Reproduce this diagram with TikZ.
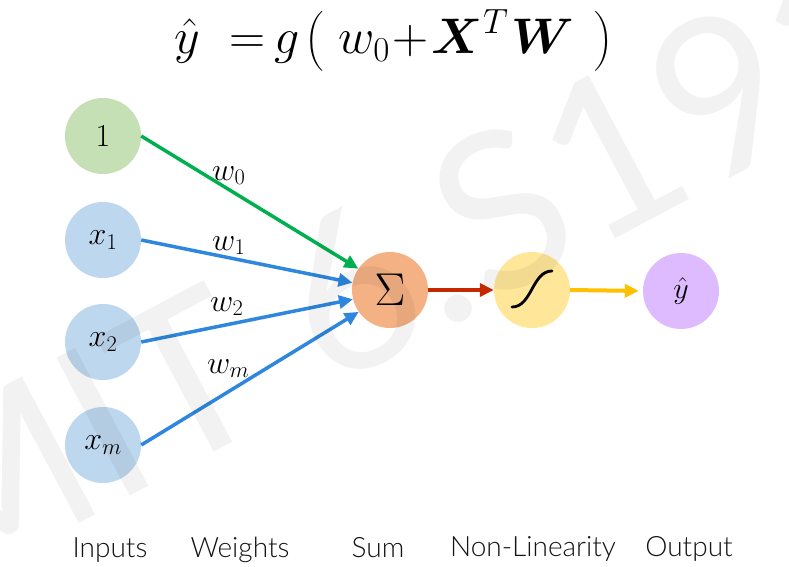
\RequirePackage{fix-cm}
\documentclass[tikz,border=0pt]{standalone}
\usepackage{amsmath}
\usepackage{fontspec}
\usetikzlibrary{arrows.meta}
\IfFontExistsTF{Lato Light}{\newfontfamily\labfont{Lato Light}}{\newfontfamily\labfont{Lato}}
\newfontfamily\wmfont{Lato}
\definecolor{cgreen}{RGB}{197,224,180}
\definecolor{cblue}{RGB}{189,215,238}
\definecolor{corange}{RGB}{244,177,131}
\definecolor{cyellow}{RGB}{255,230,153}
\definecolor{cpurple}{RGB}{222,186,255}
\definecolor{agreen}{RGB}{0,176,80}
\definecolor{ablue}{RGB}{46,134,222}
\definecolor{ared}{RGB}{197,40,0}
\definecolor{aorange}{RGB}{255,192,0}
\begin{document}
\begin{tikzpicture}[x=1pt,y=-1pt,
  neuron/.style={circle, minimum size=76pt, inner sep=0pt, draw=none},
  conn/.style={line width=3.5pt, -{Triangle[length=14pt,width=13pt]}},
  wlab/.style={anchor=base west, inner sep=0pt, font=\fontsize{32}{36}\selectfont},
  nlab/.style={font=\fontsize{32}{36}\selectfont},
  caption/.style={anchor=base, inner sep=0pt, font=\labfont\fontsize{28}{32}\selectfont, text=black!92}]
\useasboundingbox (0,0) rectangle (789,567);
\fill[white] (0,0) rectangle (789,567);
\clip (0,0) rectangle (789,567);

% title
\node[anchor=base west, inner sep=0pt, font=\fontsize{50}{56}\selectfont] (eq) at (174,54)
  {$\hat{y}\hspace{30pt}{=}\hspace{9pt}g\hspace{5pt}\big(\hspace{15pt}w_0\hspace{3pt}{+}\hspace{3pt}\boldsymbol{X}^{T}\hspace{3pt}\boldsymbol{W}\hspace{20pt}\big)$};

% neurons
\node[neuron, fill=cgreen, nlab] (in0) at (103,136) {$1$};
\node[neuron, fill=cblue, nlab] (in1) at (103,240) {$x_1$};
\node[neuron, fill=cblue, nlab] (in2) at (103,342) {$x_2$};
\node[neuron, fill=cblue, nlab] (inm) at (103,445) {$x_m$};
\node[neuron, fill=corange] (sum) at (390,290) {\fontsize{46}{50}\selectfont$\Sigma$};
\node[neuron, fill=cyellow] (sig) at (532,290) {};
\node[neuron, fill=cpurple] (out) at (681,291) {\fontsize{30}{34}\selectfont$\hat{y}$};

% sigmoid glyph
\draw[line width=2.8pt, line cap=round] (512,307) .. controls (532,307) and (532,271) .. (552,271);

% connectors
\draw[conn, agreen] (in0.east) -- (sum.146);
\draw[conn, ablue] (in1.east) -- (sum.169);
\draw[conn, ablue] (in2.east) -- (sum.194);
\draw[conn, ablue] (inm.east) -- (sum.215);
\draw[conn, ared, line width=4pt] (sum.east) -- (sig.west);
\draw[conn, aorange, line width=4pt, shorten >=4pt] (sig.east) -- (out.west);

% weight labels
\node[wlab] (lw0) at (212,180) {$w_0$};
\node[wlab] (lw1) at (212,250) {$w_1$};
\node[wlab] (lw2) at (210,311) {$w_2$};
\node[wlab] (lwm) at (207,373) {$w_m$};

% captions
\node[caption] (c1) at (110,557) {Inputs};
\node[caption] (c2) at (240,557) {Weights};
\node[caption] (c3) at (378,557) {Sum};
\node[caption] (c4) at (533,556) {Non-Linearity};
\node[caption] (c5) at (689,556) {Output};

% watermark (on top, faint)
\node[font=\wmfont\fontsize{218}{218}\selectfont, text=black, text opacity=0.05,
  rotate=28, anchor=base west, inner sep=0pt] (wmark) at (-66,601) {MIT 6.S191};
\end{tikzpicture}
\end{document}
